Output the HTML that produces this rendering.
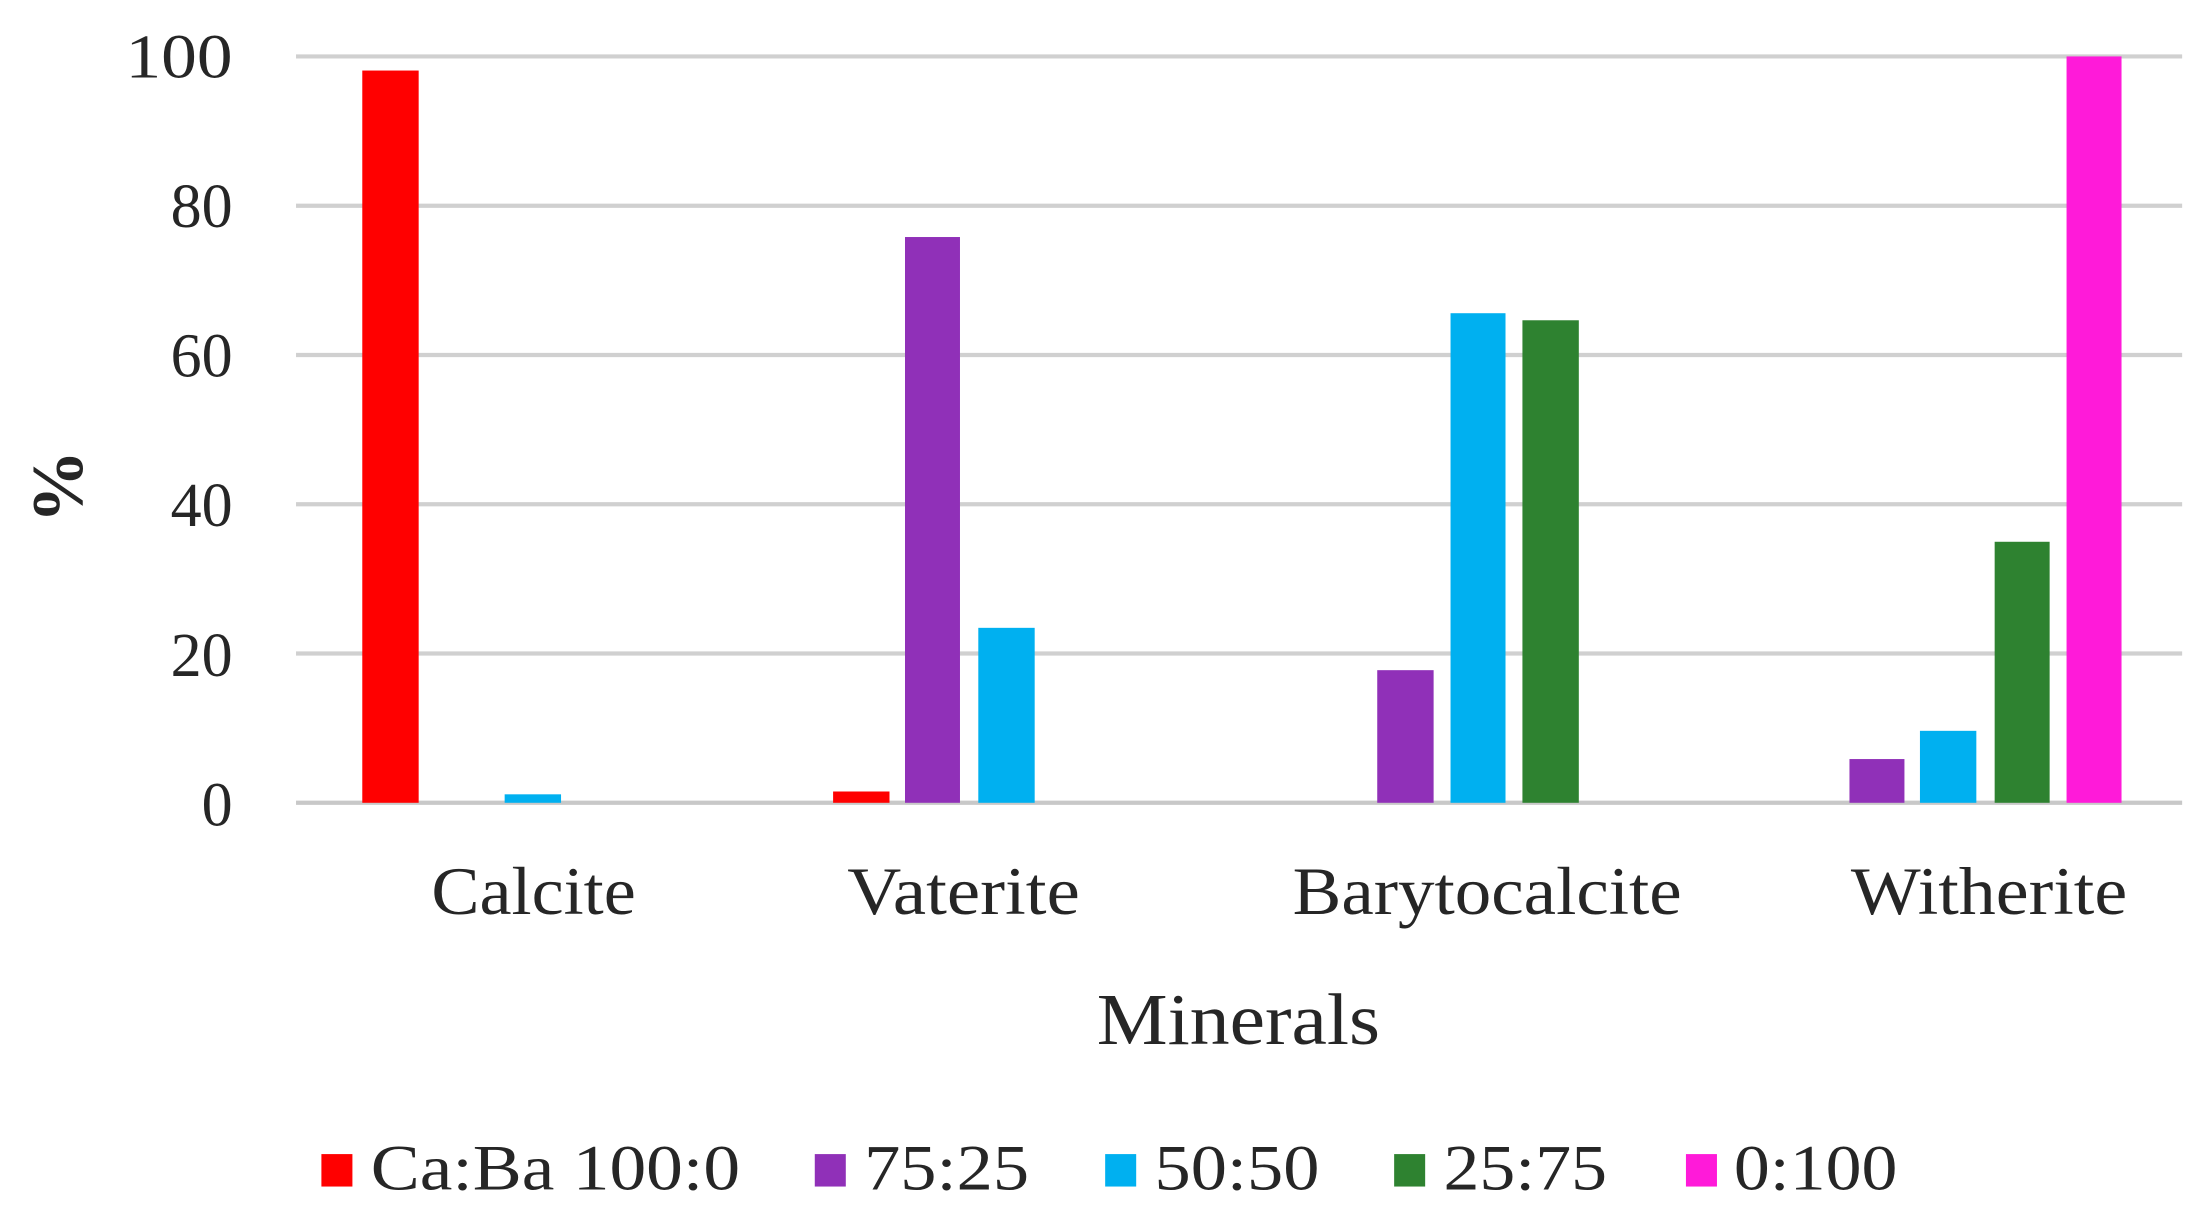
<!DOCTYPE html>
<html><head><meta charset="utf-8"><style>html,body{margin:0;padding:0;background:#fff}svg{display:block}</style></head>
<body>
<svg width="2209" height="1217" viewBox="0 0 1560 860" preserveAspectRatio="none" xmlns="http://www.w3.org/2000/svg" font-family="Liberation Serif, serif" fill="#262626">
<g transform="scale(0.9955,0.997)">
<g stroke="#d0d0d0" stroke-width="3">
<line x1="210" y1="40" x2="1548" y2="40"/>
<line x1="210" y1="145.8" x2="1548" y2="145.8"/>
<line x1="210" y1="251.6" x2="1548" y2="251.6"/>
<line x1="210" y1="357.4" x2="1548" y2="357.4"/>
<line x1="210" y1="463.2" x2="1548" y2="463.2"/>
<line x1="210" y1="569" x2="1548" y2="569" stroke="#c8c8c8"/>
</g>
<g font-size="44" text-anchor="end">
<text x="165" y="55" textLength="76" lengthAdjust="spacingAndGlyphs">100</text>
<text x="165" y="161">80</text>
<text x="165" y="267">60</text>
<text x="165" y="373">40</text>
<text x="165" y="479">20</text>
<text x="165" y="585">0</text>
</g>
<text transform="translate(58,345) rotate(-90)" font-size="52" font-weight="bold" text-anchor="middle">%</text>
<rect x="257" y="50" width="40" height="519" fill="#ff0000"/>
<rect x="358" y="563" width="40" height="6" fill="#00b0f0"/>
<rect x="591" y="561" width="40" height="8" fill="#ff0000"/>
<rect x="642" y="168" width="39" height="401" fill="#9030b8"/>
<rect x="694" y="445" width="40" height="124" fill="#00b0f0"/>
<rect x="977" y="475" width="40" height="94" fill="#9030b8"/>
<rect x="1029" y="222" width="39" height="347" fill="#00b0f0"/>
<rect x="1080" y="227" width="40" height="342" fill="#2e8230"/>
<rect x="1312" y="538" width="39" height="31" fill="#9030b8"/>
<rect x="1362" y="518" width="40" height="51" fill="#00b0f0"/>
<rect x="1415" y="384" width="39" height="185" fill="#2e8230"/>
<rect x="1466" y="40" width="39" height="529" fill="#ff1ad9"/>
<g font-size="48">
<text x="306" y="648" textLength="145" lengthAdjust="spacingAndGlyphs">Calcite</text>
<text x="601" y="648" textLength="165" lengthAdjust="spacingAndGlyphs">Vaterite</text>
<text x="917" y="648" textLength="276" lengthAdjust="spacingAndGlyphs">Barytocalcite</text>
<text x="1313" y="648" textLength="196" lengthAdjust="spacingAndGlyphs">Witherite</text>
</g>
<text x="778" y="740" font-size="52" textLength="201" lengthAdjust="spacingAndGlyphs">Minerals</text>
<g font-size="46">
<rect x="228" y="818" width="22" height="23" fill="#ff0000"/>
<text x="263" y="843" textLength="262" lengthAdjust="spacingAndGlyphs">Ca:Ba 100:0</text>
<rect x="578" y="818" width="22" height="23" fill="#9030b8"/>
<text x="613" y="843" textLength="117" lengthAdjust="spacingAndGlyphs">75:25</text>
<rect x="784" y="818" width="22" height="23" fill="#00b0f0"/>
<text x="819" y="843" textLength="117" lengthAdjust="spacingAndGlyphs">50:50</text>
<rect x="989" y="818" width="22" height="23" fill="#2e8230"/>
<text x="1024" y="843" textLength="116" lengthAdjust="spacingAndGlyphs">25:75</text>
<rect x="1196" y="818" width="22" height="23" fill="#ff1ad9"/>
<text x="1230" y="843" textLength="116" lengthAdjust="spacingAndGlyphs">0:100</text>
</g>
</g>
</svg>
</body></html>
